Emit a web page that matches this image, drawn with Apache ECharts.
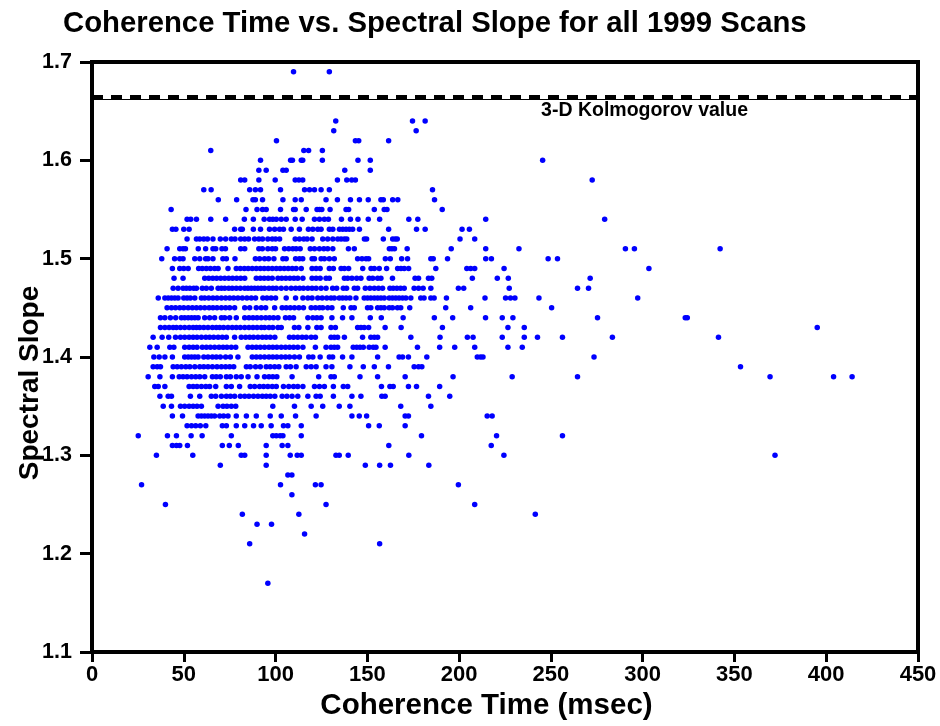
<!DOCTYPE html>
<html>
<head>
<meta charset="utf-8">
<title>Coherence Time vs. Spectral Slope</title>
<script src="https://cdn.jsdelivr.net/npm/echarts@6/dist/echarts.min.js"></script>
<style>
  html, body { margin: 0; padding: 0; background: #fff; }
  #chart { width: 940px; height: 726px; }
</style>
</head>
<body>
<div id="chart"></div>
<script>
// spectral slope comes in steps of 0.01, so points are kept row by row:
// slopeLevels[i] is the slope, coherenceAtLevel[i] the coherence times (msec) of the scans at that slope
const slopeLevels = [
  1.69, 1.64, 1.63, 1.62, 1.61, 1.60, 1.59, 1.58, 1.57, 1.56, 1.55, 1.54, 1.53, 1.52, 1.51, 1.50,
  1.49, 1.48, 1.47, 1.46, 1.45, 1.44, 1.43, 1.42, 1.41, 1.40, 1.39, 1.38, 1.37, 1.36, 1.35, 1.34,
  1.33, 1.32, 1.31, 1.30, 1.29, 1.28, 1.27, 1.26, 1.25, 1.24, 1.23, 1.22, 1.21, 1.17
]

const coherenceAtLevel = [
  [109.8, 129.3],
  [132.8, 174.6, 181.5],
  [131.7, 176.6],
  [100.5, 143.5, 145.3, 161.6],
  [64.7, 115.4, 118, 125.5],
  [91.8, 108.2, 109.2, 114, 114.8, 125.5, 144.9, 151.6, 245.5],
  [90.9, 94.9, 104, 105.8, 137.7, 151.6],
  [81, 83.2, 90.9, 99.8, 110.7, 112.7, 114.8, 133.7, 138.8, 141.5, 143.5, 272.5],
  [60.9, 64.9, 85.9, 89, 91.8, 102.7, 115.8, 118.5, 121.2, 124.8, 129.3, 185.5],
  [68.8, 78.8, 87.7, 89, 92.9, 104, 110.7, 114, 127.5, 133.7, 140.8, 145.7, 150.5, 157.4, 158.7, 163.8, 166.6, 186.6],
  [43.1, 83.9, 89.9, 92.9, 94.9, 102.7, 109.8, 110.7, 116.7, 122.6, 123.9, 125.2, 129.7, 138.4, 139.8, 153.8, 159.2, 160.7, 190.8],
  [51.8, 53.8, 56.9, 64.7, 72.8, 83, 87.9, 93.8, 96.7, 98.5, 100.4, 103.1, 105.8, 110.7, 114.5, 121.2, 123.9, 126.6, 128.8,
   135.9, 140.8, 144.9, 150.5, 156.7, 172.6, 177.5, 214.5, 279.3],
  [43.8, 45.7, 50, 52.9, 77.7, 81, 81.9, 87.9, 91.8, 96.7, 99.5, 102.2, 104.3, 108.5, 113, 117.9, 120.3, 123, 124.8, 129.3,
   131.2, 134.8, 136.6, 138.4, 140.2, 142, 145.7, 161.6, 176.8, 181.5, 201.6, 205.6],
  [51.8, 56.9, 58.7, 60.9, 62.9, 65.9, 69.9, 72.8, 75.9, 77.9, 81, 83.2, 85.3, 88.6, 90.9, 92.9, 95.8, 98.2, 100, 102.2,
   110.7, 113, 115.4, 117.2, 119.9, 125.7, 128.4, 131.2, 133.9, 135.7, 137.5, 138.8, 148.4, 149.6, 158.7, 163.8, 165.2,
   166.3, 200.5, 208.5],
  [40.9, 47.8, 49.6, 50.9, 57.9, 61.9, 65.9, 67.4, 70.8, 72.7, 81, 83.2, 90.9, 92.8, 95.8, 98.2, 100, 104.9, 107.2, 109.4,
   111.2, 113.4, 118.9, 121.2, 123.9, 126.3, 128.4, 131.2, 139.7, 142.9, 162, 163.4, 164.8, 171.7, 195.7, 214.5, 232.6,
   290.6, 295.5, 342.2],
  [38, 45, 47.8, 49.6, 56, 58.7, 61.9, 63.2, 65.9, 71.3, 73.2, 77.9, 89, 91.3, 94, 96.2, 99.1, 104, 105.8, 110.9, 113,
   114.8, 119.9, 121.2, 124.8, 126.6, 129.3, 132, 144.7, 147.1, 149.3, 150.7, 159.8, 162.5, 168.7, 171.9, 184.6, 185.9,
   193.7, 214.5, 217.6, 248.5, 253.6],
  [43.8, 47.8, 50, 52.4, 58.1, 60.1, 62.3, 64.5, 66.8, 68.7, 74.1, 78.6, 80.8, 83, 85.1, 87.3, 89.5, 91.7, 93.8, 96, 98.2,
   100.4, 102.5, 104.7, 106.9, 109.1, 111.2, 114, 119.9, 122.1, 124.3, 129.3, 131.5, 135.7, 137.5, 139.8, 147.5, 152,
   153.8, 156.5, 160.5, 166.5, 168.3, 170.1, 172.5, 187.3, 204.2, 206.3, 208.5, 224.5, 303.4],
  [44.7, 49.6, 61.4, 63.6, 65.8, 67.9, 70.1, 72.3, 74.5, 76.6, 78.8, 81, 83.2, 89.5, 91.7, 93.8, 96, 98.2, 101.3, 103.4,
   105.6, 107.8, 110, 112.1, 114.9, 119.9, 122.1, 124.3, 127.5, 129.3, 137.5, 139.3, 141.6, 144.2, 146.5, 151, 152.9,
   155.6, 157.4, 163.7, 176, 177.9, 183.3, 185.1, 207.2, 220.8, 226.8, 271.4],
  [44.2, 46.9, 49.6, 51.4, 53.3, 55.4, 56.9, 60.1, 62.3, 65, 68.7, 70.5, 72.3, 74.5, 76.4, 78.6, 80.8, 83.2, 85, 86.8,
   88.6, 90.4, 92.2, 94, 96.4, 98.5, 100.4, 103.1, 105.8, 108.5, 110.9, 113.1, 115.2, 117.6, 119.9, 122.1, 124.8, 127.5,
   131.1, 133.3, 136.9, 138.7, 142.9, 144.7, 148.9, 151.4, 153.8, 156.1, 158.3, 162.3, 164.1, 166.1, 168.1, 170.1, 175.5,
   177.9, 180.4, 184.6, 199.6, 202.5, 227.3, 264.5, 270.5],
  [36.1, 39.7, 41.5, 43.3, 45.1, 46.9, 50, 51.8, 53.6, 56, 59.6, 61.4, 63.6, 65.9, 68.1, 70.5, 72.8, 75, 77.2, 79.5, 81.9,
   84.4, 86.8, 89.1, 93.1, 95.3, 97.6, 100, 105.8, 110.9, 114.9, 117.6, 119.9, 123, 125.4, 127.9, 130.2, 132, 134.7,
   136.5, 138.4, 140.5, 143.8, 148.3, 150.1, 151.9, 153.8, 155.6, 157.4, 159.2, 161.9, 163.7, 165.5, 167.3, 169.2, 171,
   173.7, 179.1, 180.9, 184.6, 186.4, 193.1, 214.1, 225.3, 228, 230.4, 243.5, 297.3],
  [40.9, 43.3, 45.5, 47.8, 50, 52.4, 54.7, 56.9, 59.1, 61.4, 63.8, 65.9, 68.1, 70.5, 72.8, 75, 77.7, 83.2, 85.9, 89.5,
   92.2, 94.6, 99.5, 103.6, 105.8, 108, 110.3, 112.7, 115.2, 119.4, 121.7, 123.9, 125.7, 128.4, 130.7, 136.9, 141.1,
   142.9, 150.1, 151.9, 155.6, 157.4, 159.2, 161.9, 163.7, 166.4, 168.2, 173.1, 192.7, 206.3, 250.4],
  [37.3, 39.7, 42.7, 45.6, 48.7, 50.5, 52.4, 54.2, 56, 57.8, 61.4, 64.1, 66.8, 70.5, 72.3, 75, 78.6, 83.2, 85.5, 87.7,
   89.9, 92.2, 94.6, 96.7, 98.9, 101.3, 105.4, 107.6, 109.8, 117.6, 120.3, 122.5, 124.8, 130.7, 136.5, 141.6, 151.6,
   157.6, 169.5, 186.5, 196.5, 214.4, 223.5, 229.3, 275.4, 323.2, 324.3],
  [37.3, 39.7, 42, 44.2, 46, 48.2, 50.5, 52.9, 55.1, 56.9, 58.7, 60.9, 63.2, 65.6, 67.7, 69.6, 71.7, 74.1, 76.4, 78.6,
   80.8, 83.2, 85.5, 87.7, 89.9, 92.2, 94, 96.4, 98.5, 101.3, 103.1, 110.3, 112.7, 117.6, 122.5, 124.8, 130.2, 132.6,
   144.7, 146.5, 148.3, 150.7, 159.7, 168.4, 190.9, 226.6, 235.5, 395.1],
  [33.3, 38.2, 41.8, 45.5, 48.2, 50.5, 52.9, 55.1, 57.2, 59.6, 62, 64.1, 66.3, 68.7, 71, 73.2, 77.7, 81.3, 83.7, 85.9, 88,
   90.4, 92.8, 94.9, 97.1, 99.6, 107.6, 109.8, 112.1, 114.5, 116.7, 119.4, 121.7, 130.2, 132, 133.8, 137.5, 147.4, 151.9,
   153.8, 155.6, 173.7, 189.6, 204.5, 207.6, 223.5, 235.5, 242.7, 256.3, 283.5, 341.3],
  [31.5, 35.5, 42.4, 44.6, 50.5, 52.9, 55.1, 57.2, 60.1, 62.3, 64.5, 66.8, 69.2, 71.4, 73.5, 75.9, 78.3, 85, 87.3, 89.5,
   91.7, 94, 96.4, 98.5, 100.7, 103.1, 105.4, 107.6, 109.8, 112.1, 114.9, 121.7, 127.5, 130.2, 132, 133.8, 142.3, 144.2,
   146, 147.8, 151, 153.2, 154.7, 159.7, 177.3, 189.4, 197.6, 208.5, 226.6, 234.4],
  [33.7, 36.6, 39.7, 43.8, 50.5, 52.4, 54.2, 56, 57.8, 60.9, 63.2, 65.6, 67.7, 69.9, 72.8, 75.4, 79.5, 87.3, 89.5, 91.7,
   94, 96.4, 98.5, 100.7, 103.1, 105.4, 107.6, 110.3, 113, 118.1, 120.3, 124.3, 129.3, 131.1, 136.5, 141.6, 155.6, 167.3,
   169.2, 172.4, 182.4, 209.9, 211.7, 213, 273.5],
  [33.3, 35.5, 37.3, 44.2, 46.4, 48.7, 51.1, 53.3, 56, 58.7, 60.9, 63.2, 65.6, 68.1, 70.5, 72.8, 75, 77.2, 84.1, 86.2,
   89.1, 91.7, 94.9, 97.1, 99.5, 101.8, 105.8, 108.1, 111.2, 116.7, 119.4, 122.1, 127.5, 130.7, 140.5, 147.8, 153.8,
   161.5, 175.5, 177.9, 179.7, 353.3],
  [30.6, 37, 43.8, 47.5, 49.6, 51.8, 54.2, 56.5, 58.7, 61.4, 65.6, 67.7, 69.9, 73.2, 75.4, 78.6, 81.3, 85, 89.9, 94, 96.4,
   98.5, 100.7, 109, 123.5, 130.2, 132, 146, 155.6, 170.6, 196.7, 228.9, 264.5, 369.4, 404, 414.1],
  [34.2, 36.1, 39.7, 52.9, 55.1, 57.2, 59.6, 62, 64.1, 67.4, 73.2, 75.9, 80.4, 86.2, 88.6, 91.3, 93.5, 95.8, 98.2, 100.4,
   104.3, 107.2, 109.8, 112.1, 114.9, 121.2, 123.9, 126.6, 131.5, 136.9, 139.3, 157.7, 162.3, 164.1, 172.4, 176.8, 189.4],
  [37, 41.5, 43.3, 53.6, 58.7, 65, 67.4, 70.5, 73.2, 75.4, 77.7, 80.8, 83.2, 85.5, 88, 90.4, 92.8, 94.9, 97.1, 99.6,
   103.6, 106.2, 109, 112.1, 117.6, 122.1, 124.3, 131.5, 141.6, 146.5, 157.9, 159.7, 183.3, 194.9],
  [38.8, 43.3, 48.2, 50.5, 52.9, 55.1, 57.2, 59.6, 68.7, 71.4, 73.5, 75.9, 78.3, 98.5, 110.3, 119.4, 125.7, 134.7, 140.5,
   168.2, 184.6],
  [43.8, 49.3, 57.8, 59.6, 61.4, 63.2, 65, 66.8, 69.6, 71.7, 74.1, 78.6, 84.1, 89.5, 97.1, 103.1, 110.9, 122.1, 141.6,
   145.6, 149.6, 170.6, 172.4, 215.3, 218],
  [51.8, 54.2, 56.5, 59, 62, 71, 73.2, 78.6, 83.2, 88, 92.2, 97.6, 104.3, 106.7, 114, 150.7, 156.5, 170.6],
  [25.2, 41.1, 46, 54, 60, 75.9, 98.5, 100.4, 102.5, 104, 114, 179.5, 220.4, 256.3],
  [43.8, 46, 47.8, 52, 71, 74.8, 79.7, 94.9, 103.6, 106.7, 161.7, 217.5],
  [35.1, 54.9, 81.3, 83.2, 94.9, 108, 111.8, 114, 132.9, 134.7, 139.6, 172.6, 224.4, 372.1],
  [69.9, 94.9, 148.9, 156.7, 162.6, 183.5],
  [106.7, 108.9],
  [27, 102.7, 121.7, 124.8, 199.6],
  [108.9],
  [40, 127.5, 208.5],
  [81.9, 112.7, 241.5],
  [89.9, 97.8],
  [115.8],
  [85.9, 156.7],
  [95.8]
]

// reference line for the 3-D Kolmogorov spectral slope
const kolmogorovValue = 1.665
const kolmogorovLabel = '3-D Kolmogorov value'

const FONT = '"Liberation Sans", Arial, Helvetica, sans-serif'

const points = []
slopeLevels.forEach((slope, i) => {
  coherenceAtLevel[i].forEach(t => points.push([t, slope]))
})

const chart = echarts.init(document.getElementById('chart'), null, { renderer: 'canvas' })

chart.setOption({
  animation: false,
  backgroundColor: '#ffffff',
  title: {
    text: 'Coherence Time vs. Spectral Slope for all 1999 Scans',
    left: 58,
    top: 4,
    textStyle: { fontFamily: FONT, fontSize: 29.3, fontWeight: 'bold', color: '#000' }
  },
  grid: {
    left: 92,
    right: 22,
    top: 62,
    bottom: 74,
    outerBoundsMode: 'none',
    show: true,
    borderColor: '#000',
    borderWidth: 4
  },
  xAxis: {
    type: 'value',
    min: 0,
    max: 450,
    interval: 50,
    name: 'Coherence Time (msec)',
    nameLocation: 'middle',
    nameGap: 38,
    nameTextStyle: {
      fontFamily: FONT,
      fontSize: 29.5,
      fontWeight: 'bold',
      color: '#000',
      padding: [0, 37, 0, 0]
    },
    axisLine: { show: true, onZero: false, lineStyle: { color: '#000', width: 4 } },
    axisTick: { show: true, length: 10, lineStyle: { color: '#000', width: 3 } },
    axisLabel: { margin: 12, fontFamily: FONT, fontSize: 22, fontWeight: 'bold', color: '#000' },
    splitLine: { show: false }
  },
  yAxis: {
    type: 'value',
    min: 1.1,
    max: 1.7,
    interval: 0.1,
    name: 'Spectral Slope',
    nameLocation: 'middle',
    nameGap: 48,
    nameMoveOverlap: false,
    nameTextStyle: {
      fontFamily: FONT,
      fontSize: 28,
      fontWeight: 'bold',
      color: '#000',
      padding: [0, 52, 0, 0]
    },
    axisLine: { show: true, onZero: false, lineStyle: { color: '#000', width: 4 } },
    axisTick: { show: true, length: 12, lineStyle: { color: '#000', width: 3 } },
    axisLabel: {
      margin: 20,
      fontFamily: FONT,
      fontSize: 21.5,
      fontWeight: 'bold',
      color: '#000',
      formatter: v => v.toFixed(1)
    },
    splitLine: { show: false }
  },
  series: [
    {
      type: 'scatter',
      data: points,
      symbol: 'circle',
      symbolSize: 5.5,
      itemStyle: { color: '#0000ff', opacity: 1 },
      markLine: {
        silent: true,
        symbol: 'none',
        animation: false,
        precision: 4,
        data: [
          {
            yAxis: kolmogorovValue,
            lineStyle: { color: '#000', width: 4, type: [11, 8] },
            label: {
              show: true,
              position: 'insideEndBottom',
              formatter: kolmogorovLabel,
              fontFamily: FONT,
              fontSize: 19.5,
              fontWeight: 'bold',
              color: '#000',
              distance: 4,
              padding: [0, 166, 0, 0]
            }
          },
          {
            yAxis: kolmogorovValue - 0.0028,
            lineStyle: { color: '#000', width: 1, type: 'solid' },
            label: { show: false }
          }
        ]
      }
    }
  ]
})
</script>
</body>
</html>
